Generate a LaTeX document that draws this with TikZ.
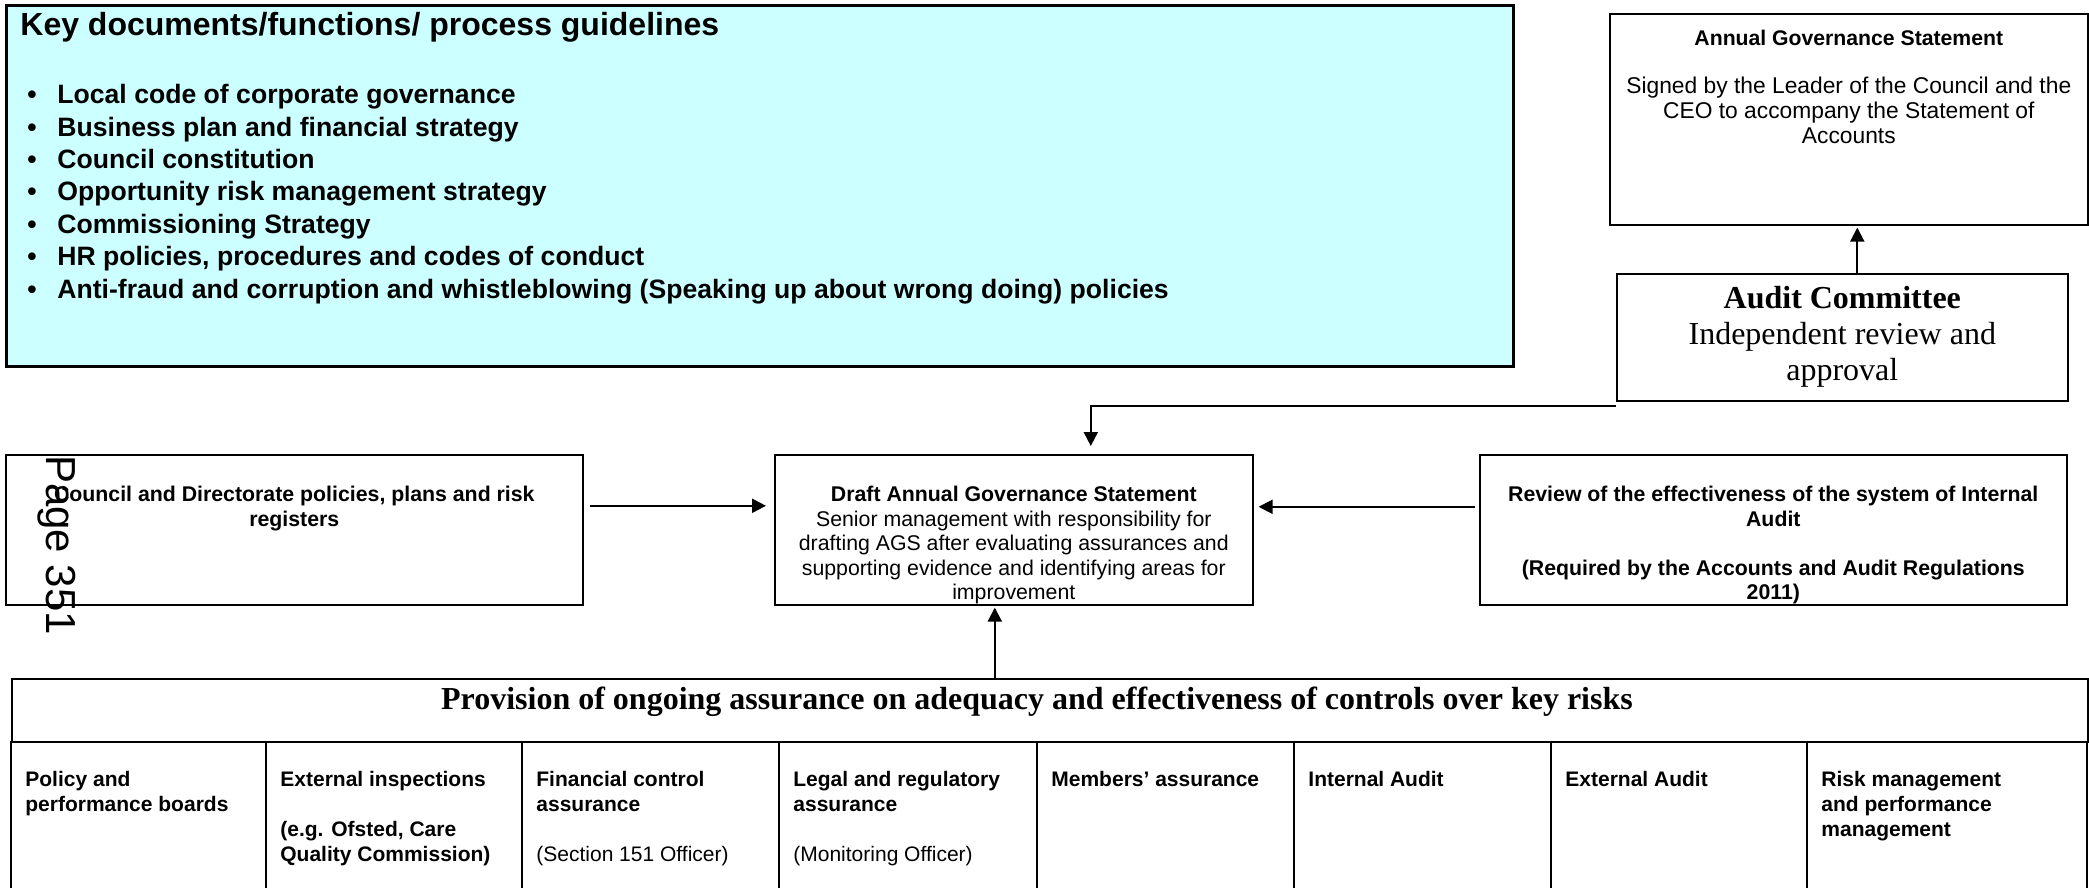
\documentclass[tikz,border=0pt]{standalone}
\usepackage{fontspec}
\setmainfont{Liberation Sans}
\newfontfamily\timesfont{Liberation Serif}
\usepackage{tikz}
\usetikzlibrary{arrows.meta,positioning}
\definecolor{keycyan}{HTML}{CCFFFF}
\newcommand{\kb}{\makebox[15pt][l]{\textbullet}}

\begin{document}
\begin{tikzpicture}[
  x=0.5pt, y=0.5pt,
  frame/.style={draw, rectangle, line width=0.8pt, inner sep=0pt, anchor=north west},
  txt/.style={inner sep=0pt, align=center, font=\fontsize{10.65}{12.2}\selectfont},
  btxt/.style={txt, font=\fontsize{10.65}{12.2}\selectfont\bfseries},
  cell/.style={anchor=north west, align=left, inner sep=0pt, font=\fontsize{10.5}{12.5}\selectfont\bfseries},
  arr/.style={-{Triangle[length=7pt,width=7pt]}, line width=1pt},
]
  \useasboundingbox (0,0) rectangle (2089,-888);

  % key documents
  \node[frame, line width=1.4pt, fill=keycyan, minimum width=753.5pt, minimum height=180.5pt] (keydocs) at (5,-4) {};
  \node[anchor=base west, inner sep=0pt, font=\fontsize{16}{18}\selectfont\bfseries] (keyhead) at (20,-36) {Key documents/functions/ process guidelines};
  \node[anchor=north west, align=left, inner sep=0pt, font=\fontsize{13.3}{16.2}\selectfont\bfseries] (keylist) at (27,-84) {%
    \kb Local code of corporate governance\\
    \kb Business plan and financial strategy\\
    \kb Council constitution\\
    \kb Opportunity risk management strategy\\
    \kb Commissioning Strategy\\
    \kb HR policies, procedures and codes of conduct\\
    \kb Anti-fraud and corruption and whistleblowing (Speaking up about wrong doing) policies};

  % statement and audit committee
  \node[frame, minimum width=239pt, minimum height=105.5pt] (ags) at (1609,-13) {};
  \node[txt, font=\fontsize{11.4}{12.5}\selectfont, below=8.5pt of ags.north] (agstext)
    {\fontsize{10.6}{12.5}\selectfont\textbf{Annual Governance Statement}\\[11.5pt]
    Signed by the Leader of the Council and the\\CEO to accompany the Statement of\\Accounts};
  \node[frame, minimum width=225.5pt, minimum height=63.5pt, align=center, font=\timesfont\fontsize{16}{18}\selectfont] (audit) at (1616,-273)
    {\textbf{Audit Committee}\\Independent review and\\approval};

  % middle row
  \node[frame, minimum width=288.5pt, minimum height=75pt] (council) at (5,-454) {};
  \node[btxt, below=16pt of council.north] (counciltext) {Council and Directorate policies, plans and risk\\registers};
  \node[frame, minimum width=239pt, minimum height=75pt] (draft) at (774,-454) {};
  \node[txt, below=16pt of draft.north] (drafttext) {\textbf{Draft Annual Governance Statement}\\
    Senior management with responsibility for\\drafting AGS after evaluating assurances and\\
    supporting evidence and identifying areas for\\improvement};
  \node[frame, minimum width=293.5pt, minimum height=75pt] (review) at (1479,-454) {};
  \node[btxt, below=16pt of review.north] (reviewtext) {Review of the effectiveness of the system of Internal\\Audit\\[12.2pt]
    (Required by the Accounts and Audit Regulations\\2011)};

  % assurance table
  \node[frame, minimum width=1038pt, minimum height=31.5pt] (assur) at (11,-678) {};
  \node[inner sep=0pt, font=\timesfont\fontsize{16}{18}\selectfont\bfseries] (assurtitle) at (1037,-702)
    {Provision of ongoing assurance on adequacy and effectiveness of controls over key risks};
  \foreach \x in {11,266,522,779,1037,1294,1551,1807,2087}
    \draw[line width=0.8pt] (\x,-741) -- (\x,-888);
  \foreach \x/\n/\t in {25/cellpolicy/{Policy and\\performance boards},
      280/cellexternal/{External inspections\\[12.5pt](e.g. Ofsted, Care\\Quality Commission)},
      536/cellfinance/{Financial control\\assurance\\[12.5pt]\mdseries(Section 151 Officer)},
      793/celllegal/{Legal and regulatory\\assurance\\[12.5pt]\mdseries(Monitoring Officer)},
      1051/cellmembers/{Members’ assurance},
      1308/cellinternal/{Internal Audit},
      1565/cellaudit/{External Audit},
      1821/cellrisk/{Risk management\\and performance\\management}}
    \node[cell] (\n) at (\x,-771) {\t};

  % connectors
  \coordinate (uptip) at ([xshift=-9.5pt]draft.south);
  \coordinate (agsin) at ([xshift=7.5pt]audit.north);
  \coordinate (draftin) at ([xshift=38.5pt]draft.north);
  \draw[arr, shorten <=3pt, shorten >=4pt] ([yshift=12pt]council.east) -- ([yshift=12pt]draft.west);
  \draw[arr, shorten <=2pt, shorten >=2.5pt] ([yshift=11.5pt]review.west) -- ([yshift=11.5pt]draft.east);
  \draw[arr, shorten >=1pt] (uptip |- assur.north) -- (uptip);
  \draw[arr, shorten >=1pt] (agsin) -- (agsin |- ags.south);
  \draw[arr, shorten >=4pt] ([yshift=-2pt]audit.south west) -| (draftin);

  % page stamp
  \node[rotate=-90, inner sep=0pt, font=\fontsize{21}{24}\selectfont] (pageno) at (57,-545) {Page 351};
\end{tikzpicture}
\end{document}
